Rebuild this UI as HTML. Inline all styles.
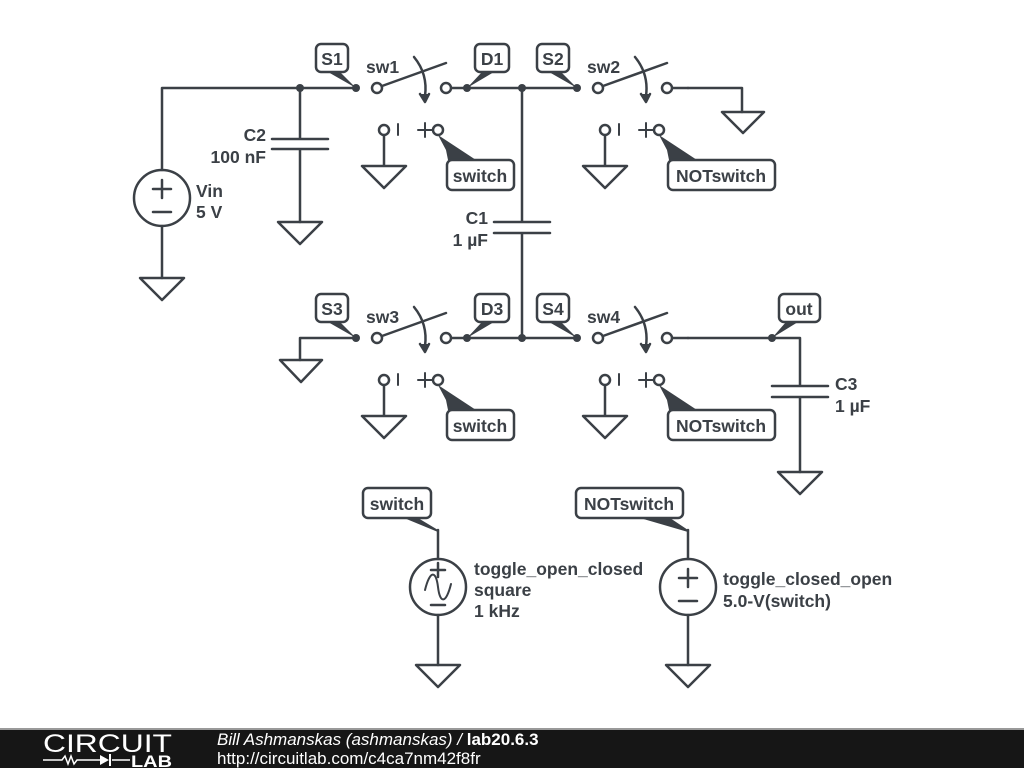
<!DOCTYPE html>
<html><head><meta charset="utf-8"><style>
html,body{margin:0;padding:0;background:#fff;width:1024px;height:768px;overflow:hidden}
svg{display:block}
text{font-family:"Liberation Sans",sans-serif;font-weight:bold;font-size:17.5px;fill:#3b4046}
</style></head><body>
<svg width="1024" height="768" viewBox="0 0 1024 768" xmlns="http://www.w3.org/2000/svg">
<g stroke="#3b4046" stroke-width="2.5" fill="none" stroke-linecap="round" stroke-linejoin="round">
<path d="M162 170 V88 H356"/>
<path d="M467 88 H577"/>
<path d="M688 88 H742 V112"/>
<path d="M722 112 H764 L743 133 Z"/>
<circle cx="162" cy="198" r="28"/>
<path d="M162 226 V278"/><path d="M140 278 H184 L162 300 Z"/>
<path d="M153 189 H171 M162 180 V198 M153 212 H171"/>
<path d="M300 88 V139 M272 139 H328 M272 149 H328 M300 149 V222"/>
<path d="M278 222 H322 L300 244 Z"/>
<path d="M522 88 V222 M494 222 H550 M494 233 H550 M522 233 V338"/>
<path d="M356 338 H300 V360"/><path d="M280 360 H322 L301 382 Z"/>
<path d="M467 338 H577"/>
<path d="M688 338 H800 V386 M772 386 H828 M772 397 H828 M800 397 V472"/>
<path d="M778 472 H822 L800 494 Z"/>
<path d="M438 530 V559 M438 615 V665"/><circle cx="438" cy="587" r="28"/>
<path d="M416 665 H460 L438 687 Z"/>
<path d="M431 570 H445 M438 563 V577 M431 605 H445"/>
<path d="M425 590 C430 570 436 570 438 587 C440 604 446 604 451 584" stroke-width="2"/>
<path d="M688 530 V559 M688 615 V665"/><circle cx="688" cy="587" r="28"/>
<path d="M666 665 H710 L688 687 Z"/>
<path d="M679 578 H697 M688 569 V587 M679 601 H697"/>
</g>
<g stroke="#3b4046" stroke-width="2.5" fill="none" stroke-linecap="round" stroke-linejoin="round">
<g transform="translate(356,88)">
 <path d="M26 -2 L90 -25"/><path d="M58 -31 Q72 -14 69 8"/><path d="M64 6 L69 14 L73 6" fill="#3b4046"/>
 <path d="M95 0 H111"/>
 <path d="M28 47 V78 M6 78 H50 L28 100 Z"/>
 <path d="M42 36 V47 M62 42 H76 M69 35 V49" stroke-width="2"/>
</g>
<g transform="translate(577,88)">
 <path d="M26 -2 L90 -25"/><path d="M58 -31 Q72 -14 69 8"/><path d="M64 6 L69 14 L73 6" fill="#3b4046"/>
 <path d="M95 0 H111"/>
 <path d="M28 47 V78 M6 78 H50 L28 100 Z"/>
 <path d="M42 36 V47 M62 42 H76 M69 35 V49" stroke-width="2"/>
</g>
<g transform="translate(356,338)">
 <path d="M26 -2 L90 -25"/><path d="M58 -31 Q72 -14 69 8"/><path d="M64 6 L69 14 L73 6" fill="#3b4046"/>
 <path d="M95 0 H111"/>
 <path d="M28 47 V78 M6 78 H50 L28 100 Z"/>
 <path d="M42 36 V47 M62 42 H76 M69 35 V49" stroke-width="2"/>
</g>
<g transform="translate(577,338)">
 <path d="M26 -2 L90 -25"/><path d="M58 -31 Q72 -14 69 8"/><path d="M64 6 L69 14 L73 6" fill="#3b4046"/>
 <path d="M95 0 H111"/>
 <path d="M28 47 V78 M6 78 H50 L28 100 Z"/>
 <path d="M42 36 V47 M62 42 H76 M69 35 V49" stroke-width="2"/>
</g>
</g>
<g stroke="#3b4046" stroke-width="2.5" fill="#fff">
<circle cx="377" cy="88" r="5"/><circle cx="446" cy="88" r="5"/><circle cx="384" cy="130" r="5"/><circle cx="438" cy="130" r="5"/>
<circle cx="598" cy="88" r="5"/><circle cx="667" cy="88" r="5"/><circle cx="605" cy="130" r="5"/><circle cx="659" cy="130" r="5"/>
<circle cx="377" cy="338" r="5"/><circle cx="446" cy="338" r="5"/><circle cx="384" cy="380" r="5"/><circle cx="438" cy="380" r="5"/>
<circle cx="598" cy="338" r="5"/><circle cx="667" cy="338" r="5"/><circle cx="605" cy="380" r="5"/><circle cx="659" cy="380" r="5"/>
</g>
<g fill="#3b4046">
<circle cx="300" cy="88" r="4"/><circle cx="356" cy="88" r="4"/><circle cx="467" cy="88" r="4"/><circle cx="522" cy="88" r="4"/><circle cx="577" cy="88" r="4"/>
<circle cx="356" cy="338" r="4"/><circle cx="467" cy="338" r="4"/><circle cx="522" cy="338" r="4"/><circle cx="577" cy="338" r="4"/><circle cx="772" cy="338" r="4"/>
<polygon points="328,72 340,72 356,88"/>
<polygon points="482,72 494,72 467,88"/>
<polygon points="549,72 561,72 577,88"/>
<polygon points="328,322 340,322 356,338"/>
<polygon points="482,322 494,322 467,338"/>
<polygon points="549,322 561,322 577,338"/>
<polygon points="786,322 798,322 772,338"/>
<polygon points="438,135 446,150 448,160 476,160"/>
<polygon points="659,135 667,150 669,160 697,160"/>
<polygon points="438,385 446,400 448,410 476,410"/>
<polygon points="659,385 667,400 669,410 697,410"/>
<polygon points="404,518 418,518 438,530 438,532"/>
<polygon points="640,518 670,518 688,530 688,532"/>
</g>
<g stroke="#3b4046" stroke-width="2.5" fill="#fff">
<rect x="316" y="44" width="32" height="28" rx="5"/>
<rect x="475" y="44" width="34" height="28" rx="5"/>
<rect x="537" y="44" width="32" height="28" rx="5"/>
<rect x="316" y="294" width="32" height="28" rx="5"/>
<rect x="475" y="294" width="34" height="28" rx="5"/>
<rect x="537" y="294" width="32" height="28" rx="5"/>
<rect x="779" y="294" width="41" height="28" rx="5"/>
<rect x="447" y="160" width="67" height="30" rx="5"/>
<rect x="668" y="160" width="107" height="30" rx="5"/>
<rect x="447" y="410" width="67" height="30" rx="5"/>
<rect x="668" y="410" width="107" height="30" rx="5"/>
<rect x="363" y="488" width="68" height="30" rx="5"/>
<rect x="576" y="488" width="107" height="30" rx="5"/>
</g>
<g>
<text x="332" y="65" text-anchor="middle">S1</text>
<text x="492" y="65" text-anchor="middle">D1</text>
<text x="553" y="65" text-anchor="middle">S2</text>
<text x="332" y="315" text-anchor="middle">S3</text>
<text x="492" y="315" text-anchor="middle">D3</text>
<text x="553" y="315" text-anchor="middle">S4</text>
<text x="799" y="315" text-anchor="middle">out</text>
<text x="480" y="182" text-anchor="middle">switch</text>
<text x="721" y="182" text-anchor="middle">NOTswitch</text>
<text x="480" y="432" text-anchor="middle">switch</text>
<text x="721" y="432" text-anchor="middle">NOTswitch</text>
<text x="397" y="510" text-anchor="middle">switch</text>
<text x="629" y="510" text-anchor="middle">NOTswitch</text>
<text x="366" y="73">sw1</text><text x="587" y="73">sw2</text>
<text x="366" y="323">sw3</text><text x="587" y="323">sw4</text>
<text x="266" y="141" text-anchor="end">C2</text>
<text x="266" y="163" text-anchor="end">100 nF</text>
<text x="488" y="224" text-anchor="end">C1</text>
<text x="488" y="246" text-anchor="end">1 µF</text>
<text x="835" y="390">C3</text>
<text x="835" y="412">1 µF</text>
<text x="196" y="197">Vin</text>
<text x="196" y="218">5 V</text>
<text x="474" y="575">toggle_open_closed</text>
<text x="474" y="596">square</text>
<text x="474" y="617">1 kHz</text>
<text x="723" y="585">toggle_closed_open</text>
<text x="723" y="607">5.0-V(switch)</text>
</g>
<rect x="0" y="729" width="1024" height="39" fill="#161616"/>
<rect x="0" y="728" width="1024" height="2" fill="#999"/>
<text x="43" y="752" textLength="129" lengthAdjust="spacingAndGlyphs" style="font-weight:normal;font-size:25px;fill:#fff">CIRCUIT</text>
<path d="M43 760 H62 l3 -4 3 8 3 -8 3 8 3 -4 H100 M112 760 H130" stroke="#fff" stroke-width="1.5" fill="none"/>
<polygon points="100,755 100,765 109,760" fill="#fff"/><rect x="109" y="754" width="2" height="12" fill="#fff"/>
<text x="131" y="767" textLength="41" lengthAdjust="spacingAndGlyphs" style="font-size:17px;fill:#fff;font-weight:bold">LAB</text>
<text x="217" y="745" style="font-weight:normal;font-style:italic;font-size:17px;fill:#fff">Bill Ashmanskas (ashmanskas) / <tspan style="font-style:normal;font-weight:bold">lab20.6.3</tspan></text>
<text x="217" y="764" style="font-weight:normal;font-size:17px;fill:#fff">http://circuitlab.com/c4ca7nm42f8fr</text>
</svg>
</body></html>
